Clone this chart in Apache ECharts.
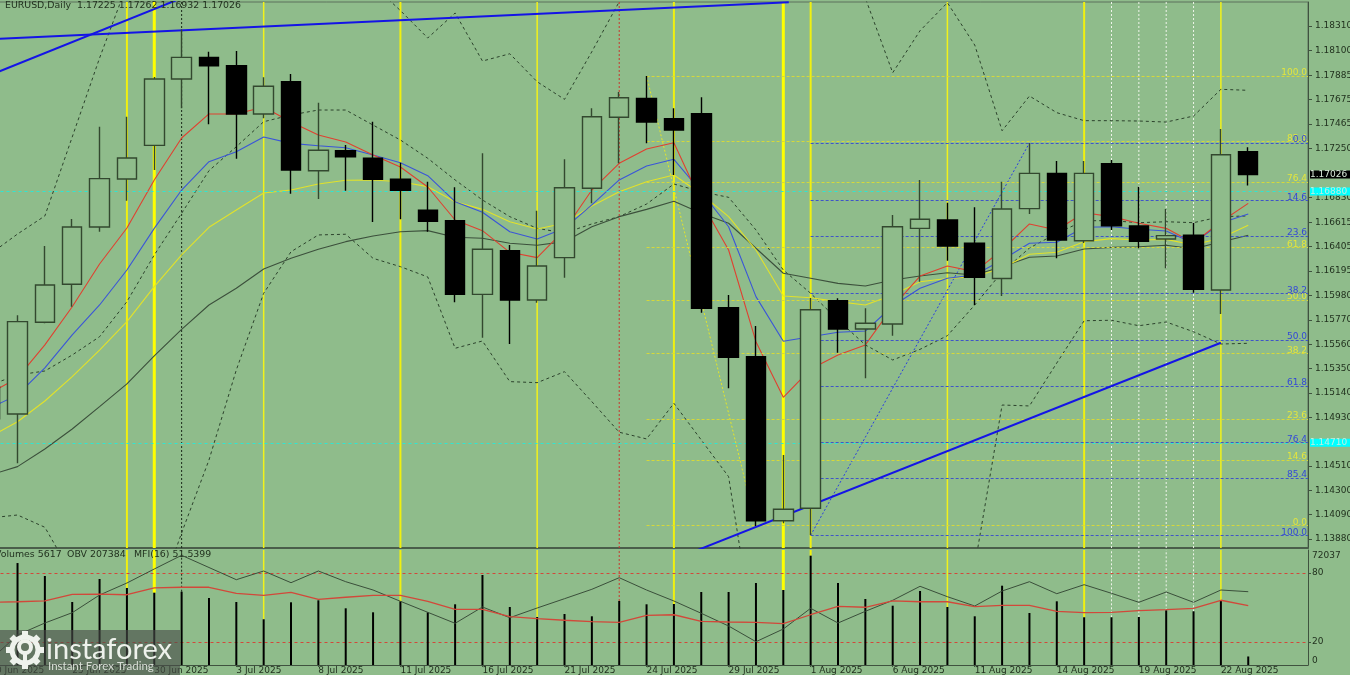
<!DOCTYPE html>
<html>
<head>
<meta charset="utf-8">
<title>EURUSD Daily</title>
<script src="https://cdn.jsdelivr.net/npm/echarts@6/dist/echarts.min.js"></script>
<style>
    html, body { margin: 0; padding: 0; background: #8fbc8b; overflow: hidden; }
    #chart { width: 1350px; height: 675px; }
</style>
</head>
<body>
<div id="chart"></div>
<script>
const dates = [
    "20 Jun 2025", "23 Jun 2025", "24 Jun 2025", "25 Jun 2025", "26 Jun 2025", "27 Jun 2025", "30 Jun 2025",
    "1 Jul 2025", "2 Jul 2025", "3 Jul 2025", "4 Jul 2025", "7 Jul 2025", "8 Jul 2025", "9 Jul 2025",
    "10 Jul 2025", "11 Jul 2025", "14 Jul 2025", "15 Jul 2025", "16 Jul 2025", "17 Jul 2025", "18 Jul 2025",
    "21 Jul 2025", "22 Jul 2025", "23 Jul 2025", "24 Jul 2025", "25 Jul 2025", "28 Jul 2025", "29 Jul 2025",
    "30 Jul 2025", "31 Jul 2025", "1 Aug 2025", "4 Aug 2025", "5 Aug 2025", "6 Aug 2025", "7 Aug 2025",
    "8 Aug 2025", "11 Aug 2025", "12 Aug 2025", "13 Aug 2025", "14 Aug 2025", "15 Aug 2025", "18 Aug 2025",
    "19 Aug 2025", "20 Aug 2025", "21 Aug 2025", "22 Aug 2025", "25 Aug 2025"
];

const opens = [
    1.15194, 1.14959, 1.15751, 1.16079, 1.16574, 1.16988, 1.17279, 1.17852, 1.18039, 1.17967, 1.17550, 1.17828,
    1.17060, 1.17233, 1.17167, 1.16986, 1.16718, 1.16628, 1.15992, 1.16369, 1.15943, 1.16309, 1.16908, 1.17521,
    1.17685, 1.17509, 1.17552, 1.15877, 1.15454, 1.14037, 1.14144, 1.15937, 1.15693, 1.15736, 1.16562, 1.16634,
    1.16433, 1.16129, 1.16732, 1.17037, 1.16455, 1.17120, 1.16582, 1.16470, 1.16502, 1.16030, 1.17225
];
const closes = [
    1.14916, 1.15756, 1.16073, 1.16574, 1.16991, 1.17170, 1.17852, 1.18039, 1.17967, 1.17550, 1.17789, 1.17066,
    1.17236, 1.17181, 1.16986, 1.16891, 1.16623, 1.15992, 1.16381, 1.15943, 1.16237, 1.16913, 1.17526, 1.17690,
    1.17480, 1.17411, 1.15872, 1.15448, 1.14035, 1.14136, 1.15859, 1.15693, 1.15742, 1.16576, 1.16640, 1.16410,
    1.16139, 1.16729, 1.17037, 1.16461, 1.17037, 1.16585, 1.16450, 1.16499, 1.16036, 1.17198, 1.17026
];
const lows = [
    1.14821, 1.14533, 1.15742, 1.15885, 1.16533, 1.16801, 1.17066, 1.17599, 1.17461, 1.17163, 1.17512, 1.16861,
    1.16815, 1.16887, 1.16617, 1.16640, 1.16533, 1.15923, 1.15618, 1.15563, 1.15920, 1.16136, 1.16778, 1.17124,
    1.17296, 1.17023, 1.15834, 1.15181, 1.13991, 1.14015, 1.13914, 1.15488, 1.15267, 1.15635, 1.16101, 1.16283,
    1.15900, 1.15978, 1.16686, 1.16303, 1.16435, 1.16548, 1.16390, 1.16217, 1.16006, 1.15822, 1.16932
];
const highs = [
    1.15295, 1.15811, 1.16410, 1.16643, 1.17440, 1.17526, 1.17869, 1.18281, 1.18088, 1.18094, 1.17866, 1.17895,
    1.17647, 1.17282, 1.17483, 1.17129, 1.16965, 1.16916, 1.17210, 1.16418, 1.16714, 1.17158, 1.17599, 1.17739,
    1.17878, 1.17599, 1.17694, 1.15986, 1.15719, 1.14605, 1.15960, 1.15958, 1.15872, 1.16677, 1.16980, 1.16783,
    1.16744, 1.16965, 1.17296, 1.17144, 1.17144, 1.17152, 1.16922, 1.16729, 1.16611, 1.17420, 1.17262
];

const maRed = [
    1.15140, 1.15270, 1.15555, 1.15885, 1.16254, 1.16565, 1.16980, 1.17342, 1.17550, 1.17550, 1.17610, 1.17480,
    1.17368, 1.17308, 1.17195, 1.17092, 1.16919, 1.16634, 1.16542, 1.16355, 1.16309, 1.16548, 1.16893, 1.17124,
    1.17247, 1.17302, 1.16792, 1.16375, 1.15583, 1.15103, 1.15347, 1.15468, 1.15555, 1.15883, 1.16150, 1.16237,
    1.16188, 1.16375, 1.16600, 1.16548, 1.16697, 1.16663, 1.16606, 1.16562, 1.16435, 1.16619, 1.16778
];
const maBlue = [
    1.15011, 1.15123, 1.15356, 1.15641, 1.15900, 1.16202, 1.16562, 1.16893, 1.17138, 1.17224, 1.17351, 1.17296,
    1.17276, 1.17258, 1.17195, 1.17129, 1.17017, 1.16792, 1.16701, 1.16533, 1.16470, 1.16562, 1.16764, 1.16980,
    1.17100, 1.17158, 1.16878, 1.16576, 1.15972, 1.15587, 1.15626, 1.15664, 1.15675, 1.15891, 1.16044, 1.16131,
    1.16159, 1.16289, 1.16433, 1.16442, 1.16571, 1.16576, 1.16554, 1.16539, 1.16433, 1.16608, 1.16686
];
const maYellow = [
    1.14760, 1.14892, 1.15071, 1.15281, 1.15511, 1.15756, 1.16058, 1.16332, 1.16571, 1.16720, 1.16867, 1.16893,
    1.16945, 1.16977, 1.16980, 1.16965, 1.16922, 1.16792, 1.16726, 1.16619, 1.16556, 1.16606, 1.16755, 1.16878,
    1.16965, 1.17023, 1.16859, 1.16663, 1.16375, 1.15978, 1.15963, 1.15929, 1.15900, 1.15986, 1.16101, 1.16129,
    1.16144, 1.16220, 1.16338, 1.16355, 1.16447, 1.16473, 1.16461, 1.16467, 1.16418, 1.16479, 1.16588
];
const maBlack = [
    1.14432, 1.14504, 1.14656, 1.14829, 1.15022, 1.15218, 1.15460, 1.15690, 1.15900, 1.16044, 1.16211, 1.16303,
    1.16381, 1.16447, 1.16496, 1.16533, 1.16542, 1.16485, 1.16476, 1.16433, 1.16416, 1.16447, 1.16576, 1.16663,
    1.16726, 1.16796, 1.16692, 1.16606, 1.16390, 1.16174, 1.16131, 1.16087, 1.16064, 1.16116, 1.16150, 1.16179,
    1.16159, 1.16231, 1.16312, 1.16323, 1.16384, 1.16398, 1.16403, 1.16416, 1.16386, 1.16444, 1.16502
];
const bandUpper = [
    1.16340, 1.16513, 1.16669, 1.17351, 1.18033, 1.18664, 1.19139, 1.19484, 1.19657, 1.19743, 1.19657, 1.19484,
    1.19311, 1.19052, 1.18664, 1.18443, 1.18206, 1.18422, 1.18007, 1.18070, 1.17828, 1.17676, 1.18088, 1.18519,
    1.19052, 1.19311, 1.19570, 1.19829, 1.20088, 1.19916, 1.19570, 1.19225, 1.18551, 1.17906, 1.18269, 1.18511,
    1.18145, 1.17405, 1.17705, 1.17561, 1.17492, 1.17492, 1.17489, 1.17480, 1.17532, 1.17763, 1.17754
];
const bandMiddle = [
    1.15209, 1.15295, 1.15330, 1.15468, 1.15626, 1.15929, 1.16332, 1.16692, 1.17060, 1.17267, 1.17483, 1.17541,
    1.17584, 1.17584, 1.17454, 1.17325, 1.17167, 1.16980, 1.16807, 1.16663, 1.16562, 1.16522, 1.16600, 1.16663,
    1.16772, 1.16945, 1.16878, 1.16830, 1.16548, 1.16202, 1.16001, 1.15770, 1.15555, 1.15425, 1.15517, 1.15635,
    1.15900, 1.16185, 1.16392, 1.16519, 1.16628, 1.16628, 1.16611, 1.16619, 1.16611, 1.16663, 1.16669
];
const bandLower = [
    1.14061, 1.14086, 1.13980, 1.13568, 1.13352, 1.13180, 1.13266, 1.13931, 1.14561, 1.15339, 1.16001, 1.16360,
    1.16505, 1.16511, 1.16303, 1.16231, 1.16142, 1.15526, 1.15589, 1.15238, 1.15229, 1.15324, 1.15065, 1.14801,
    1.14743, 1.15051, 1.14734, 1.14417, 1.12921, 1.12316, 1.11971, 1.11798, 1.11712, 1.11798, 1.11971, 1.12489,
    1.13646, 1.15036, 1.15028, 1.15399, 1.15764, 1.15768, 1.15721, 1.15753, 1.15669, 1.15563, 1.15569
];

const volumes = [
    44000, 67200, 58660, 41520, 56680, 50750, 47650, 48310, 44160, 41520, 30120, 41330,
    42640, 37370, 34730, 41980, 34730, 40010, 59320, 38230, 31640, 33610, 32100, 42180,
    40010, 40200, 48110, 48110, 54040, 49430, 72037, 54040, 43500, 39080, 48770, 38230,
    32100, 52270, 34270, 41980, 31440, 31440, 31640, 36050, 35390, 42840, 5617
];
const mfi = [
    54.5, 55.0, 55.7, 61.5, 61.7, 61.1, 67.0, 67.6, 67.6, 62.3, 60.6, 63.2,
    57.1, 58.9, 60.6, 60.6, 55.4, 48.4, 48.4, 42.0, 40.3, 38.9, 37.7, 37.1,
    43.2, 43.7, 38.0, 37.4, 37.1, 35.9, 43.7, 51.0, 50.2, 55.7, 55.0, 55.0,
    50.7, 51.9, 51.9, 46.7, 45.5, 45.8, 47.2, 48.1, 49.3, 56.3, 51.54
];
const obv = [
    -38496, 51504, 94704, 131784, 195504, 238704, 289104, 338424, 294504, 250584, 281904, 239784,
    281904, 243384, 213504, 172824, 133224, 93624, 152304, 113784, 148704, 182184, 216024, 257784,
    213504, 173904, 129624, 83904, 27384, 73104, 147624, 94704, 136824, 176424, 226824, 189384,
    155904, 209904, 243384, 200184, 232584, 201624, 169224, 206304, 169224, 213504, 207384
];

const priceTicks = [
    1.1831, 1.181, 1.17885, 1.17675, 1.17465, 1.1725, 1.1683, 1.16615, 1.16405, 1.16195, 1.1598,
    1.1577, 1.1556, 1.1535, 1.1514, 1.1493, 1.1451, 1.143, 1.1409, 1.1388
];
const dateTicks = [0, 3, 6, 9, 12, 15, 18, 21, 24, 27, 30, 33, 36, 39, 42, 45];
const mfiTicks = [20, 80];
const volumeTicks = [0, 72037];

const fibYellowNames = ["100.0", "85.4", "76.4", "61.8", "50.0", "38.2", "23.6", "14.6", "0.0"];
const fibYellowPrices = [1.17878, 1.17310, 1.16964, 1.16395, 1.15943, 1.15481, 1.14916, 1.14561, 1.13994];
const fibBlueNames = ["0.0", "14.6", "23.6", "38.2", "50.0", "61.8", "76.4", "85.4", "100.0"];
const fibBluePrices = [1.17299, 1.16801, 1.16496, 1.16001, 1.15598, 1.15201, 1.14711, 1.14406, 1.13911];
const fibYellowFrom = 24;
const fibBlueFrom = 30;
const fibYellowSwing = [[24, 1.17878], [28, 1.13994]];
const fibBlueSwing = [[30, 1.13911], [38, 1.17299]];

const trendFlat = [[0, 1.18195], [29.2, 1.18514]];
const trendSteep = [[0, 1.17886], [8, 1.18646]];
const trendRising = [[25, 1.13702], [45, 1.15574]];

const cyanPrices = [1.16880, 1.14710];
const lastPrice = 1.17026;

const yellowHeavy = [6, 29];
const yellowMid = [5, 15, 25, 30, 40];
const yellowThin = [10, 20, 35, 45];
const whiteDotted = [41, 42, 43, 44];
const blackDotted = [7];
const redDotted = [23];

const headerText = "EURUSD,Daily  1.17225 1.17262 1.16932 1.17026";
const volumesText = "Volumes 5617";
const obvText = "OBV 207384";
const mfiText = "MFI(16) 51.5399";

const BG = "#8fbc8b";
const INK = "#22321f";
const FONT = "DejaVu Sans";
const PRICE_MIN = 1.13801;
const PRICE_MAX = 1.18517;
const VOLUME_MAX = 75794;
const X_MIN = -0.5;
const X_MAX = 48.185;

function withIndex(values) {
    return values.map((v, i) => [i, v]);
}

function plainLine(name, data, color, width, type, z, axis) {
    const pane = axis || 0;

    return {
        name: name,
        type: "line",
        data: data,
        xAxisIndex: pane ? 1 : 0,
        yAxisIndex: pane,
        symbol: "none",
        silent: true,
        z: z,
        lineStyle: { color: color, width: width, type: type }
    };
}

// vertical cycle lines: full height on top, from the volume bar upward below
function verticals(indexes, color, width, type) {
    const out = [];

    indexes.forEach(i => {
        out.push(plainLine("v", [[i, PRICE_MIN], [i, PRICE_MAX]], color, width, type, 1));
        out.push(plainLine("v", [[i, volumes[i]], [i, VOLUME_MAX]], color, width, type, 1, 2));
    });

    return out;
}

function fibLevels(names, prices, from, color, textColor, z) {
    return {
        type: "line",
        data: [],
        xAxisIndex: 0,
        yAxisIndex: 0,
        silent: true,
        z: z,
        markLine: {
            silent: true,
            symbol: "none",
            animation: false,
            lineStyle: { color: color, width: 1, type: [3, 2] },
            label: {
                show: true,
                position: "insideEndTop",
                formatter: "{b}",
                color: textColor,
                fontFamily: FONT,
                fontSize: 9,
                lineHeight: 4,
                distance: 1
            },
            data: prices.map((p, i) => [
                { name: names[i], coord: [from, p] },
                { coord: [X_MAX, p] }
            ])
        }
    };
}

function priceBoxes() {
    const box = (price, bg, color, lineWidth) => [
        {
            coord: [X_MIN, price],
            lineStyle: { width: lineWidth, color: "#2fe6d2", type: [3, 3], opacity: 1 },
            label: {
                show: true,
                position: "end",
                distance: 2,
                formatter: price.toFixed(5),
                backgroundColor: bg,
                color: color,
                fontFamily: FONT,
                fontSize: 9,
                lineHeight: 8,
                width: 42,
                height: 8
            }
        },
        { coord: [X_MAX, price] }
    ];

    return {
        type: "line",
        data: [],
        xAxisIndex: 0,
        yAxisIndex: 0,
        silent: true,
        z: 3,
        markLine: {
            silent: true,
            symbol: "none",
            animation: false,
            data: [
                box(cyanPrices[0], "#00ffff", "#bfeee0", 1),
                box(cyanPrices[1], "#00ffff", "#bfeee0", 1),
                box(lastPrice, "#000000", "#d8e8d8", 0)
            ]
        }
    };
}

function limitLines() {
    return {
        type: "line",
        data: [],
        xAxisIndex: 1,
        yAxisIndex: 1,
        silent: true,
        z: 2,
        markLine: {
            silent: true,
            symbol: "none",
            animation: false,
            label: { show: false },
            lineStyle: { color: "#d2483a", width: 1, type: [3, 3] },
            data: mfiTicks.map(v => [{ coord: [X_MIN, v] }, { coord: [X_MAX, v] }])
        }
    };
}

function logoGraphics() {
    const cx = 25;
    const cy = 650;
    const ink = "#eef2ec";
    const parts = [
        {
            type: "rect",
            z: 100,
            shape: { x: 0, y: 630, width: 180, height: 45 },
            style: { fill: "rgba(72,76,72,0.62)" }
        },
        {
            type: "circle",
            z: 101,
            shape: { cx: cx, cy: cy, r: 13 },
            style: { fill: "none", stroke: ink, lineWidth: 5 }
        },
        {
            type: "circle",
            z: 101,
            shape: { cx: cx, cy: cy - 3, r: 6 },
            style: { fill: "none", stroke: ink, lineWidth: 4 }
        },
        {
            type: "rect",
            z: 101,
            shape: { x: cx - 2, y: cy + 1, width: 4, height: 16 },
            style: { fill: ink }
        },
        {
            type: "text",
            z: 101,
            x: 46,
            y: 650,
            style: { text: "instaforex", fill: ink, font: "29px Lato", textVerticalAlign: "middle" }
        },
        {
            type: "text",
            z: 101,
            x: 48,
            y: 666,
            style: { text: "Instant Forex Trading", fill: "#d8ded6", font: "11.5px Lato", textVerticalAlign: "middle" }
        }
    ];

    for (let a = 0; a < 8; a++) {
        parts.push({
            type: "rect",
            z: 101,
            x: cx,
            y: cy,
            rotation: a * Math.PI / 4,
            shape: { x: -3, y: -19, width: 6, height: 6 },
            style: { fill: ink }
        });
    }

    return parts;
}

function textLabel(text, x, y) {
    return {
        type: "text",
        z: 50,
        x: x,
        y: y,
        style: { text: text, fill: INK, font: "9.4px " + FONT, textVerticalAlign: "middle" }
    };
}

const chart = echarts.init(document.getElementById("chart"), null, { renderer: "canvas" });

chart.setOption({
    animation: false,
    backgroundColor: BG,
    grid: [
        {
            left: -23.5, width: 1331.5, top: 2, height: 546, outerBoundsMode: "none",
            show: true, borderColor: "#5c705c", borderWidth: 1, backgroundColor: "transparent"
        },
        { left: -23.5, width: 1331.5, top: 550, height: 115, outerBoundsMode: "none" }
    ],
    xAxis: [
        {
            type: "value", gridIndex: 0, min: X_MIN, max: X_MAX,
            splitLine: { show: false },
            axisTick: { show: false },
            axisLabel: { show: false },
            axisLine: { onZero: false, lineStyle: { color: "#4a5e4a", width: 2 } }
        },
        {
            type: "value", gridIndex: 1, min: X_MIN, max: X_MAX,
            splitLine: { show: false },
            axisLine: { onZero: false, lineStyle: { color: "#3f523f", width: 1 } },
            axisTick: { show: true, length: 2, customValues: dateTicks, lineStyle: { color: "#3f523f" } },
            axisLabel: {
                customValues: dateTicks,
                formatter: v => dates[v],
                align: "left",
                margin: 1,
                color: INK,
                fontFamily: FONT,
                fontSize: 9
            }
        }
    ],
    yAxis: [
        {
            type: "value", gridIndex: 0, position: "right", min: PRICE_MIN, max: PRICE_MAX,
            splitLine: { show: false },
            axisLine: { show: true, onZero: false, lineStyle: { color: "#3f523f" } },
            axisTick: { show: true, length: 4, customValues: priceTicks, lineStyle: { color: "#3f523f" } },
            axisLabel: {
                customValues: priceTicks,
                formatter: v => v.toFixed(5),
                margin: 7,
                color: INK,
                fontFamily: FONT,
                fontSize: 9
            }
        },
        {
            type: "value", gridIndex: 1, position: "right", min: 0, max: 100,
            splitLine: { show: false },
            axisLine: { show: true, onZero: false, lineStyle: { color: "#3f523f" } },
            axisTick: { show: true, length: 3, customValues: mfiTicks, lineStyle: { color: "#3f523f" } },
            axisLabel: { customValues: mfiTicks, margin: 4, color: INK, fontFamily: FONT, fontSize: 9 }
        },
        {
            type: "value", gridIndex: 1, position: "right", min: 0, max: VOLUME_MAX,
            splitLine: { show: false },
            axisLine: { show: false },
            axisTick: { show: false },
            axisLabel: {
                customValues: volumeTicks,
                formatter: v => String(v),
                verticalAlignMinLabel: "bottom",
                margin: 4,
                color: INK,
                fontFamily: FONT,
                fontSize: 9
            }
        },
        {
            type: "value", gridIndex: 1, position: "right", min: -56496, max: 357504,
            show: false,
            splitLine: { show: false }
        }
    ],
    series: [
        ...verticals(yellowHeavy, "#ffff00", 3, "solid"),
        ...verticals(yellowMid, "#f0f010", 2, "solid"),
        ...verticals(yellowThin, "#f2f21a", 1.5, "solid"),
        ...verticals(whiteDotted, "#eef4ea", 1, [2, 2]),
        ...verticals(blackDotted, "#1c2a1c", 1, [2, 2]),
        ...verticals(redDotted, "#c8382c", 1, [2, 2]),

        fibLevels(fibYellowNames, fibYellowPrices, fibYellowFrom, "#d6d83a", "#e4e63c", 2),
        fibLevels(fibBlueNames, fibBluePrices, fibBlueFrom, "#3f55c8", "#3348d8", 3),
        priceBoxes(),
        limitLines(),

        plainLine("fib swing", fibYellowSwing, "#e6e628", 1, [2, 2], 3),
        plainLine("fib swing", fibBlueSwing, "#2a3fe0", 1, [2, 2], 3),

        plainLine("upper", withIndex(bandUpper), "#2c422c", 1, [3, 3], 4),
        plainLine("middle", withIndex(bandMiddle), "#2c422c", 1, [3, 3], 4),
        plainLine("lower", withIndex(bandLower), "#2c422c", 1, [3, 3], 4),
        plainLine("ma black", withIndex(maBlack), "#3c503c", 1.1, "solid", 4),
        plainLine("ma yellow", withIndex(maYellow), "#e2e22a", 1.1, "solid", 4),
        plainLine("ma blue", withIndex(maBlue), "#3a55d8", 1.1, "solid", 4),
        plainLine("ma red", withIndex(maRed), "#e04030", 1.1, "solid", 4),

        plainLine("trend", trendFlat, "#1414e6", 2, "solid", 5),
        plainLine("trend", trendSteep, "#1414e6", 2, "solid", 5),
        plainLine("trend", trendRising, "#1414e6", 2, "solid", 5),

        {
            name: "EURUSD",
            type: "candlestick",
            xAxisIndex: 0,
            yAxisIndex: 0,
            barWidth: 20,
            silent: true,
            z: 8,
            itemStyle: {
                color: BG,
                color0: "#000000",
                borderColor: "#33482f",
                borderColor0: "#000000",
                borderWidth: 1.4
            },
            data: opens.map((o, i) => [i, o, closes[i], lows[i], highs[i]])
        },

        {
            name: "Volumes",
            type: "bar",
            xAxisIndex: 1,
            yAxisIndex: 2,
            barWidth: 2,
            silent: true,
            z: 5,
            itemStyle: { color: "#000000" },
            data: withIndex(volumes)
        },
        plainLine("OBV", withIndex(obv), "#3a4e3a", 1, "solid", 6, 3),
        plainLine("MFI", withIndex(mfi), "#d2483a", 1.3, "solid", 6, 1)
    ],
    graphic: [
        textLabel(headerText, 5, 6),
        textLabel(volumesText, -5, 555),
        textLabel(obvText, 67, 555),
        textLabel(mfiText, 134, 555),
        ...logoGraphics()
    ]
});
</script>
</body>
</html>
